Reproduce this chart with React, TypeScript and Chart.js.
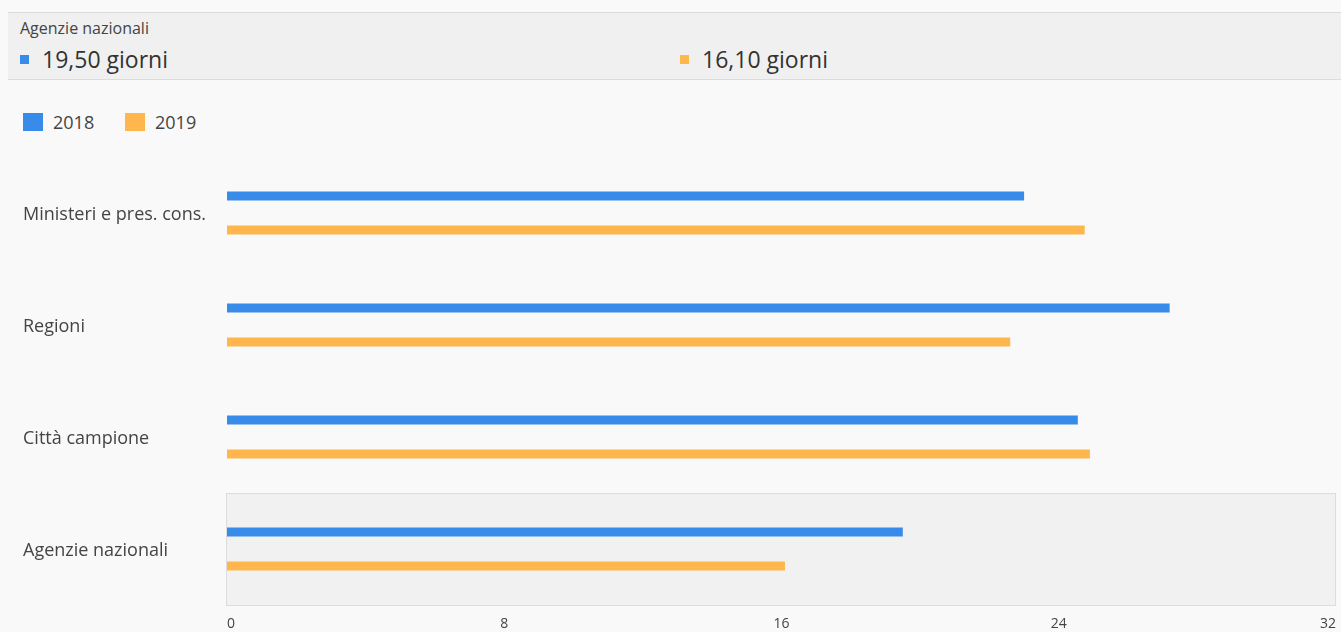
import React, { useEffect, useRef } from "react";
import { Chart, registerables } from "chart.js";

Chart.register(...registerables);

const categories = ["Ministeri e pres. cons.", "Regioni", "Città campione", "Agenzie nazionali"];
const seriesNames = ["2018", "2019"];
const values2018 = [23.0, 27.2, 24.55, 19.5];
const values2019 = [24.75, 22.6, 24.9, 16.1];
const xTicks = [0, 8, 16, 24, 32];
const highlightedIndex = 3;
const headerTitle = "Agenzie nazionali";
const headerValues = ["19,50 giorni", "16,10 giorni"];

const BLUE = "#388be8";
const ORANGE = "#ffb74d";
const FONT = "'Open Sans', 'Noto Sans', sans-serif";
const TEXT = "#444444";

const highlightPlugin = {
  id: "highlightBand",
  beforeDatasetsDraw(chart: any) {
    const y = chart.scales.y;
    const area = chart.chartArea;
    const band = y.getPixelForValue(1) - y.getPixelForValue(0);
    const c = y.getPixelForValue(highlightedIndex);
    const top = Math.round(c - band / 2) + 0.5;
    const bottom = Math.round(c + band / 2) + 0.5;
    const ctx = chart.ctx;
    ctx.save();
    ctx.fillStyle = "#f1f1f1";
    ctx.strokeStyle = "#dddddd";
    ctx.lineWidth = 1;
    ctx.fillRect(area.left - 1, top, area.right - area.left + 1, bottom - top);
    ctx.strokeRect(area.left - 0.5, top, area.right - area.left, bottom - top);
    ctx.restore();
  },
};

export default function App() {
  const canvasRef = useRef<HTMLCanvasElement | null>(null);

  useEffect(() => {
    if (!canvasRef.current) return;
    const chart = new Chart(canvasRef.current, {
      type: "bar",
      data: {
        labels: categories,
        datasets: [
          {
            label: seriesNames[0],
            data: values2018,
            backgroundColor: BLUE,
            categoryPercentage: 0.607,
            barPercentage: 0.265,
          },
          {
            label: seriesNames[1],
            data: values2019,
            backgroundColor: ORANGE,
            categoryPercentage: 0.607,
            barPercentage: 0.265,
          },
        ],
      },
      options: {
        indexAxis: "y",
        animation: false,
        responsive: false,
        maintainAspectRatio: false,
        layout: { padding: { left: 23, right: 5, top: 7, bottom: 0 } },
        plugins: {
          legend: { display: false },
          tooltip: { enabled: false },
        },
        scales: {
          x: {
            min: xTicks[0],
            max: xTicks[xTicks.length - 1],
            afterBuildTicks: (scale: any) => {
              scale.ticks = xTicks.map((v) => ({ value: v }));
            },
            afterFit: (scale: any) => {
              scale.height = 27;
              scale.paddingLeft = 0;
              scale.paddingRight = 0;
            },
            grid: { display: false, drawTicks: false },
            border: { display: false },
            ticks: {
              align: "inner",
              padding: 11,
              color: TEXT,
              font: { family: FONT, size: 14 },
              maxRotation: 0,
            },
          },
          y: {
            afterFit: (scale: any) => {
              scale.width = 204;
              scale.paddingTop = 0;
              scale.paddingBottom = 0;
            },
            grid: { display: false, drawTicks: false },
            border: { display: false },
            ticks: {
              crossAlign: "far",
              labelOffset: 2,
              color: TEXT,
              font: { family: FONT, size: 18 },
            },
          },
        },
      },
      plugins: [highlightPlugin],
    } as any);
    return () => chart.destroy();
  }, []);

  const legendColors = [BLUE, ORANGE];
  const legendX = [23, 125];
  const headerX = [12, 672];

  return (
    <div
      style={{
        position: "fixed",
        inset: 0,
        overflow: "hidden",
        background: "#f9f9f9",
        fontFamily: FONT,
        color: TEXT,
      }}
    >
      <div
        style={{
          position: "absolute",
          left: 8,
          top: 12,
          right: -10,
          height: 66,
          borderTop: "1px solid #dcdcdc",
          borderBottom: "1px solid #dcdcdc",
          background: "#f0f0f0",
        }}
      >
        <div
          style={{
            position: "absolute",
            left: 12,
            top: 5,
            fontSize: 16,
            lineHeight: "20px",
            whiteSpace: "nowrap",
          }}
        >
          {headerTitle}
        </div>
        {headerValues.map((v, i) => (
          <React.Fragment key={v}>
            <div
              style={{
                position: "absolute",
                left: headerX[i],
                top: 42,
                width: 9,
                height: 9,
                background: legendColors[i],
              }}
            />
            <div
              style={{
                position: "absolute",
                left: headerX[i] + 22,
                top: 32,
                fontSize: 23,
                lineHeight: "28px",
                color: "#333",
                whiteSpace: "nowrap",
              }}
            >
              {v}
            </div>
          </React.Fragment>
        ))}
      </div>
      {seriesNames.map((s, i) => (
        <React.Fragment key={s}>
          <div
            style={{
              position: "absolute",
              left: legendX[i],
              top: 113,
              width: 20,
              height: 18,
              background: legendColors[i],
            }}
          />
          <div
            style={{
              position: "absolute",
              left: legendX[i] + 30,
              top: 110,
              fontSize: 18,
              lineHeight: "24px",
              whiteSpace: "nowrap",
            }}
          >
            {s}
          </div>
        </React.Fragment>
      ))}
      <canvas
        ref={canvasRef}
        width={1341}
        height={482}
        style={{ position: "absolute", left: 0, top: 150, width: 1341, height: 482 }}
      />
    </div>
  );
}
